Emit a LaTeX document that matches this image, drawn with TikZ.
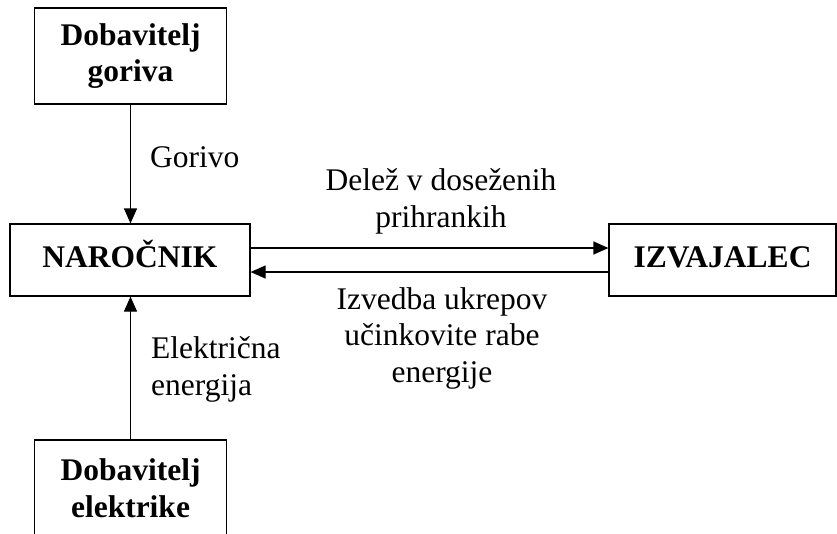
\documentclass[tikz,border=0pt]{standalone}
\usepackage{fontspec}
\setmainfont{Liberation Serif}
\usetikzlibrary{arrows.meta}
\begin{document}
\begin{tikzpicture}[x=1pt,y=1pt,
  box/.style={draw, line width=1.2pt, inner sep=0pt, font=\fontsize{31.5}{36.5}\selectfont\bfseries, align=center},
  lbl/.style={inner sep=0pt, font=\fontsize{31.5}{36.5}\selectfont, align=center},
  arr/.style={line width=1.2pt, -{Triangle[length=15pt,width=13pt]}}]
\useasboundingbox (0,0) rectangle (837,-533);
\clip (0,0) rectangle (837,-533);
\node[box, minimum width=192pt, minimum height=96pt] (fuel) at (130.5,-56) {Dobavitelj\\goriva};
\node[box, minimum width=240pt, minimum height=72pt, text height=22pt, text depth=8pt] (nar) at (130,-260) {NAROČNIK};
\node[box, minimum width=227pt, minimum height=72pt, text height=22pt, text depth=8pt] (izv) at (722.5,-260) {IZVAJALEC};
\node[box, minimum width=192pt, minimum height=96pt] (el) at (130.5,-488) {Dobavitelj\\elektrike};
\draw[arr] (fuel.south) -- (fuel.south |- nar.north);
\draw[arr] (el.north) -- (el.north |- nar.south);
\draw[arr] ([yshift=12pt]nar.east) -- ([yshift=12pt]izv.west);
\draw[arr] ([yshift=-12pt]izv.west) -- ([yshift=-12pt]nar.east);
\node[lbl, anchor=base west] (lg) at (150,-167) {Gorivo};
\node[lbl, anchor=base] (ld) at (441,-227) {Delež v doseženih\\prihrankih};
\node[lbl, anchor=base] (li) at (442,-382) {Izvedba ukrepov\\učinkovite rabe\\energije};
\node[lbl, anchor=base west, align=left] (le) at (151,-395) {Električna\\energija};
\end{tikzpicture}
\end{document}
